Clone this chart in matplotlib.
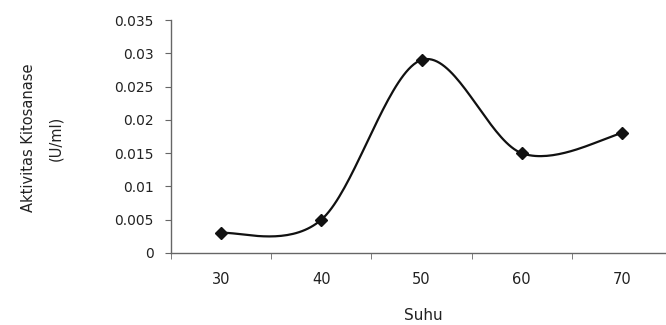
import numpy as np
import matplotlib
matplotlib.use("Agg")
import matplotlib.pyplot as plt

categories = ["30", "40", "50", "60", "70"]
activity = [0.003, 0.005, 0.029, 0.015, 0.018]
y_ticks = [0, 0.005, 0.01, 0.015, 0.02, 0.025, 0.03, 0.035]
y_tick_labels = ["0", "0.005", "0.01", "0.015", "0.02", "0.025", "0.03", "0.035"]

plt.rcParams['font.family'] = ['DejaVu Sans']

fig = plt.figure(figsize=(6.66, 3.25), dpi=100)
W, H = 666, 325
ax = fig.add_axes([171 / W, 1 - 253 / H, (672 - 171) / W, (253 - 20) / H])

xs = np.arange(len(categories), dtype=float)
ys = np.array(activity, dtype=float)

# Smoothed line (Catmull-Rom style Bezier as in spreadsheet "smoothed line")
pts = np.column_stack([xs, ys])
curve = []
t = np.linspace(0, 1, 40)
for i in range(len(pts) - 1):
    p0 = pts[i - 1] if i > 0 else pts[i]
    p1 = pts[i]
    p2 = pts[i + 1]
    p3 = pts[i + 2] if i + 2 < len(pts) else pts[i + 1]
    b1 = p1 + (p2 - p0) / 6
    b2 = p2 - (p3 - p1) / 6
    seg = ((1 - t) ** 3)[:, None] * p1 + (3 * (1 - t) ** 2 * t)[:, None] * b1 \
        + (3 * (1 - t) * t ** 2)[:, None] * b2 + (t ** 3)[:, None] * p2
    curve.append(seg)
curve = np.vstack(curve)
ax.plot(curve[:, 0], curve[:, 1], color='#111111', lw=1.6, zorder=2)
ax.plot(xs, ys, linestyle='none', marker='D', markersize=6.5, color='#111111', zorder=3)

ax.set_xlim(-0.5, len(categories) - 0.5)
ax.set_ylim(0, 0.035)
ax.set_yticks(y_ticks)
ax.set_yticklabels(y_tick_labels)
ax.set_xticks(xs)
ax.set_xticklabels(categories)
ax.set_xticks(np.arange(len(categories) + 1) - 0.5, minor=True)
ax.tick_params(axis='x', which='major', length=0, pad=14, labelsize=10.5, colors='#222222')
ax.tick_params(axis='x', which='minor', length=4.5, direction='out', color='#666666')
ax.tick_params(axis='y', length=4.5, direction='out', color='#666666', labelsize=10,
               labelcolor='#222222', pad=8)

for side in ['top', 'right']:
    ax.spines[side].set_visible(False)
for side in ['left', 'bottom']:
    ax.spines[side].set_color('#666666')
    ax.spines[side].set_linewidth(1.0)

fig.text(423 / W, 1 - 316 / H, "Suhu", ha='center', va='center', fontsize=11, color='#222222')
fig.text(42 / W, 1 - 138 / H, "Aktivitas Kitosanase\n(U/ml)", ha='center', va='center',
         rotation=90, fontsize=10.5, color='#222222', linespacing=2.0)

fig.savefig("out.png", dpi=100)
